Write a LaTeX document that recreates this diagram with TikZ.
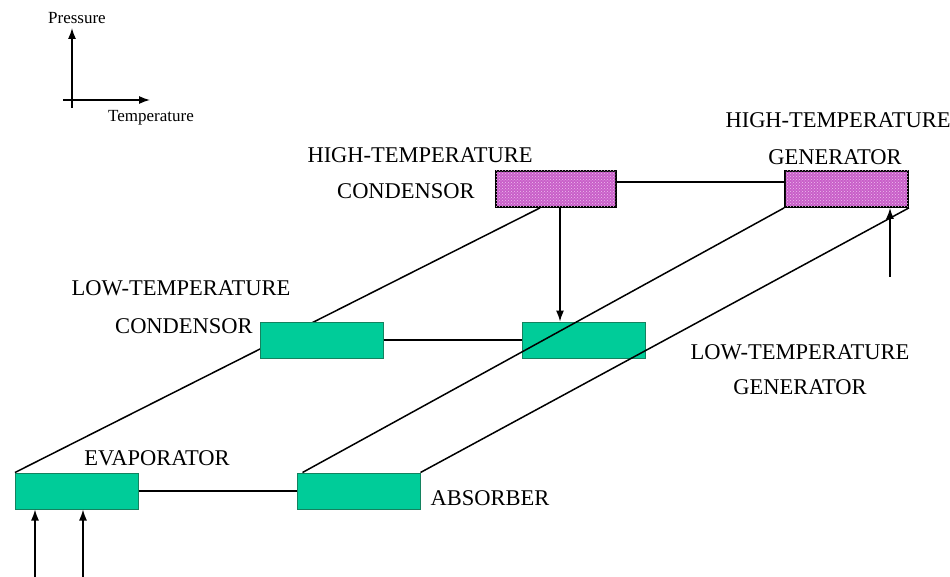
\documentclass[tikz,border=0pt]{standalone}
\usepackage{fontspec}
\setmainfont{Liberation Serif}
\usetikzlibrary{arrows.meta,patterns}
\definecolor{boxgreen}{RGB}{0,204,153}
\definecolor{boxgreenline}{RGB}{20,130,95}
\definecolor{boxpink}{RGB}{200,95,200}
\definecolor{dotpink}{RGB}{240,190,240}
\tikzset{
  greenbox/.style={draw=boxgreenline,line width=1pt,fill=boxgreen,minimum width=123pt,minimum height=36pt,inner sep=0pt},
  pinkbox/.style={draw=black,line width=1.8pt,fill=boxpink,postaction={pattern=crosshatch dots,pattern color=dotpink},minimum width=120pt,minimum height=36pt,inner sep=0pt},
  lbl/.style={font=\fontsize{22.5}{26}\selectfont,inner sep=0pt},
  smalllbl/.style={font=\fontsize{17}{20}\selectfont,inner sep=0pt},
  conn/.style={line width=1.5pt},
  arr/.style={line width=1.5pt,-{Latex[length=11pt,width=8pt]}}
}
\begin{document}
\begin{tikzpicture}[x=1pt,y=-1pt]
\useasboundingbox (0,0) rectangle (950,577);
% axes
\coordinate (axy) at (72,28);
\coordinate (axx) at (150,100);
\coordinate (axyb) at (72,108);
\coordinate (axxb) at (63,100);
\draw[arr,line width=1.3pt] (axyb) -- (axy);
\draw[arr,line width=1.3pt] (axxb) -- (axx);
\node[smalllbl] (pres) at (77,18) {Pressure};
\node[smalllbl] (temp) at (151,118) {Temperature};
% hidden line first
\node[pinkbox] (htc) at (556,189) {};
\coordinate (htcl) at ([xshift=-16pt]htc.south);
\node[greenbox] (evap) at (77,491) {};
\draw[conn] (evap.north west) -- (htcl);
\node[greenbox] (ltc) at (321.5,340) {};
\node[greenbox] (ltg) at (584,340) {};
\node[greenbox] (abs) at (358.5,491) {};
% pink boxes on top
\node[pinkbox] (htc) at (556,189) {};
\node[pinkbox,minimum width=123pt] (htg) at (846.5,189) {};
% horizontal connectors
\draw[conn] ([yshift=7pt]htc.east) -- ([yshift=7pt]htg.west);
\draw[conn,line width=1.2pt] (ltc.east) -- (ltg.west);
\draw[conn] (evap.east) -- (abs.west);
% diagonals over LT generator
\draw[conn] ([xshift=6pt]abs.north west) -- (htg.south west);
\draw[conn] (abs.north east) -- (htg.south east);
% vertical arrow HT condensor -> LT generator
\coordinate (vtop) at ([xshift=4pt]htc.south);
\draw[arr,line width=1.2pt] (vtop) -- (vtop |- ltg.north);
% arrow into HT generator
\coordinate (hgin) at (890,277);
\draw[arr] (hgin) -- (hgin |- htg.south);
% arrows into evaporator
\coordinate (ev1) at (35,577);
\coordinate (ev2) at (83,577);
\draw[arr] (ev1) -- (ev1 |- evap.south);
\draw[arr] (ev2) -- (ev2 |- evap.south);
% labels
\node[lbl] (l1) at (420,155) {HIGH-TEMPERATURE};
\node[lbl] (l2) at (406,191) {CONDENSOR};
\node[lbl] (l3) at (838,120) {HIGH-TEMPERATURE};
\node[lbl] (l4) at (835,157) {GENERATOR};
\node[lbl] (l5) at (181,288) {LOW-TEMPERATURE};
\node[lbl] (l6) at (184,326) {CONDENSOR};
\node[lbl] (l7) at (800,352) {LOW-TEMPERATURE};
\node[lbl] (l8) at (800,387) {GENERATOR};
\node[lbl] (l9) at (157,458) {EVAPORATOR};
\node[lbl] (l10) at (490,498) {ABSORBER};
\end{tikzpicture}
\end{document}
